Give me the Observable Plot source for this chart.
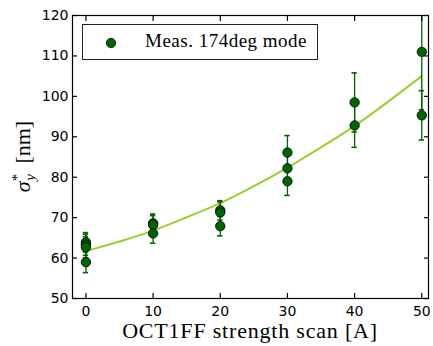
<!DOCTYPE html>
<html>
<head>
<meta charset="utf-8">
<script src="https://cdn.jsdelivr.net/npm/d3@7"></script>
<script src="https://cdn.jsdelivr.net/npm/@observablehq/plot@0.6"></script>
<style>
  html, body { margin: 0; padding: 0; background: #fff; }
  #chart { position: relative; width: 433px; height: 346px; }
  .legend {
    position: absolute; left: 82px; top: 24px; width: 236px; height: 36px;
    box-sizing: border-box; border: 1px solid #222; background: #fff;
    font-family: "Liberation Serif", serif; font-size: 19px; letter-spacing: 0.5px;
  }
  .legend svg { position: absolute; left: 21px; top: 11px; }
  .legend span { position: absolute; left: 62px; top: 5px; line-height: 22px; white-space: nowrap; }
</style>
</head>
<body>
<div id="chart"></div>
<script>
// OCT1FF scan: vertical beam size at each octupole strength
const strength = [0, 0, 0, 0, 10, 10, 10, 20, 20, 20, 30, 30, 30, 40, 40, 50, 50];
const sigma    = [63.9, 63.3, 62.7, 59.0, 68.6, 68.2, 66.1, 71.8, 71.3, 67.9, 86.1, 82.2, 79.0, 98.5, 92.8, 111.0, 95.3];
const sigmaErr = [2.4, 2.6, 2.6, 2.6, 2.3, 2.3, 2.4, 2.4, 2.6, 2.4, 4.2, 4.0, 3.5, 7.3, 5.4, 14.3, 6.1];

// fitted curve through the scan
const fitStrength = [0, 5, 10, 15, 20, 25, 30, 35, 40, 45, 50];
const fitSigma    = [61.7, 64.1, 66.8, 70.1, 73.6, 77.8, 82.4, 87.4, 92.7, 98.7, 105.0];

const xTicks = [0, 10, 20, 30, 40, 50];
const yTicks = [50, 60, 70, 80, 90, 100, 110, 120];

const legendLabel = "Meas. 174deg mode";
const xLabel = "OCT1FF strength scan [A]";

const points = strength.map((x, i) => ({
  x, y: sigma[i], lo: sigma[i] - sigmaErr[i], hi: sigma[i] + sigmaErr[i]
}));
const fit = fitStrength.map((x, i) => ({x, y: fitSigma[i]}));

const markerFill = "#006400";
const barColor = "#006400";
const capHalf = 0.4;

const chart = Plot.plot({
  width: 433,
  height: 346,
  marginLeft: 72,
  marginRight: 5,
  marginTop: 15,
  marginBottom: 48,
  style: {fontFamily: "DejaVu Sans", fontSize: "14px", color: "#000", background: "#fff", overflow: "visible"},
  x: {domain: [-2, 51]},
  y: {domain: [50, 120]},
  marks: [
    Plot.line(fit, {x: "x", y: "y", stroke: "#9acd32", strokeWidth: 2, curve: "natural"}),
    Plot.ruleX(points, {x: "x", y1: "lo", y2: "hi", stroke: barColor, strokeWidth: 1.3, clip: true}),
    Plot.ruleY(points, {y: "lo", x1: d => d.x - capHalf, x2: d => d.x + capHalf, stroke: barColor, strokeWidth: 1.6, clip: true}),
    Plot.ruleY(points, {y: "hi", x1: d => d.x - capHalf, x2: d => d.x + capHalf, stroke: barColor, strokeWidth: 1.6, clip: true}),
    Plot.dot(points, {x: "x", y: "y", r: 4.7, fill: markerFill, stroke: "#000", strokeWidth: 0.8}),
    Plot.axisX({ticks: xTicks, tickSize: -5, tickPadding: 13, label: null, strokeWidth: 1.2}),
    Plot.axisX({anchor: "top", ticks: xTicks, tickSize: -5, tickFormat: () => "", label: null, strokeWidth: 1.2}),
    Plot.axisY({ticks: yTicks, tickSize: -5, tickPadding: 9, label: null, strokeWidth: 1.2}),
    Plot.axisY({anchor: "right", ticks: yTicks, tickSize: -5, tickFormat: () => "", label: null, strokeWidth: 1.2}),
    Plot.frame({stroke: "#000", strokeWidth: 1.2})
  ]
});

const root = document.getElementById("chart");
root.appendChild(chart);

// axis titles in a serif face
const svg = d3.select(chart);
const [x0, x1] = chart.scale("x").range;
const [y0, y1] = chart.scale("y").range;

svg.append("text")
  .attr("x", (x0 + x1) / 2)
  .attr("y", 338)
  .attr("text-anchor", "middle")
  .attr("font-family", "Liberation Serif, serif")
  .attr("font-size", 22)
  .attr("letter-spacing", 0.8)
  .attr("fill", "#000")
  .text(xLabel);

const yl = svg.append("text")
  .attr("transform", `translate(30,${(y0 + y1) / 2}) rotate(-90)`)
  .attr("text-anchor", "middle")
  .attr("font-family", "Liberation Serif, serif")
  .attr("font-size", 22)
  .attr("fill", "#000");
yl.append("tspan").attr("font-style", "italic").text("σ");
yl.append("tspan").attr("font-size", 15).attr("dy", -8).text("*");
yl.append("tspan").attr("font-size", 15).attr("font-style", "italic").attr("dx", -7).attr("dy", 13).text("y");
yl.append("tspan").attr("dx", 5).attr("dy", -5).text(" [nm]");

// legend
const legend = document.createElement("div");
legend.className = "legend";
legend.innerHTML = `<svg width="14" height="14"><circle cx="7" cy="7" r="4.7" fill="${markerFill}" stroke="#000" stroke-width="0.8"/></svg><span>${legendLabel}</span>`;
root.appendChild(legend);
</script>
</body>
</html>
